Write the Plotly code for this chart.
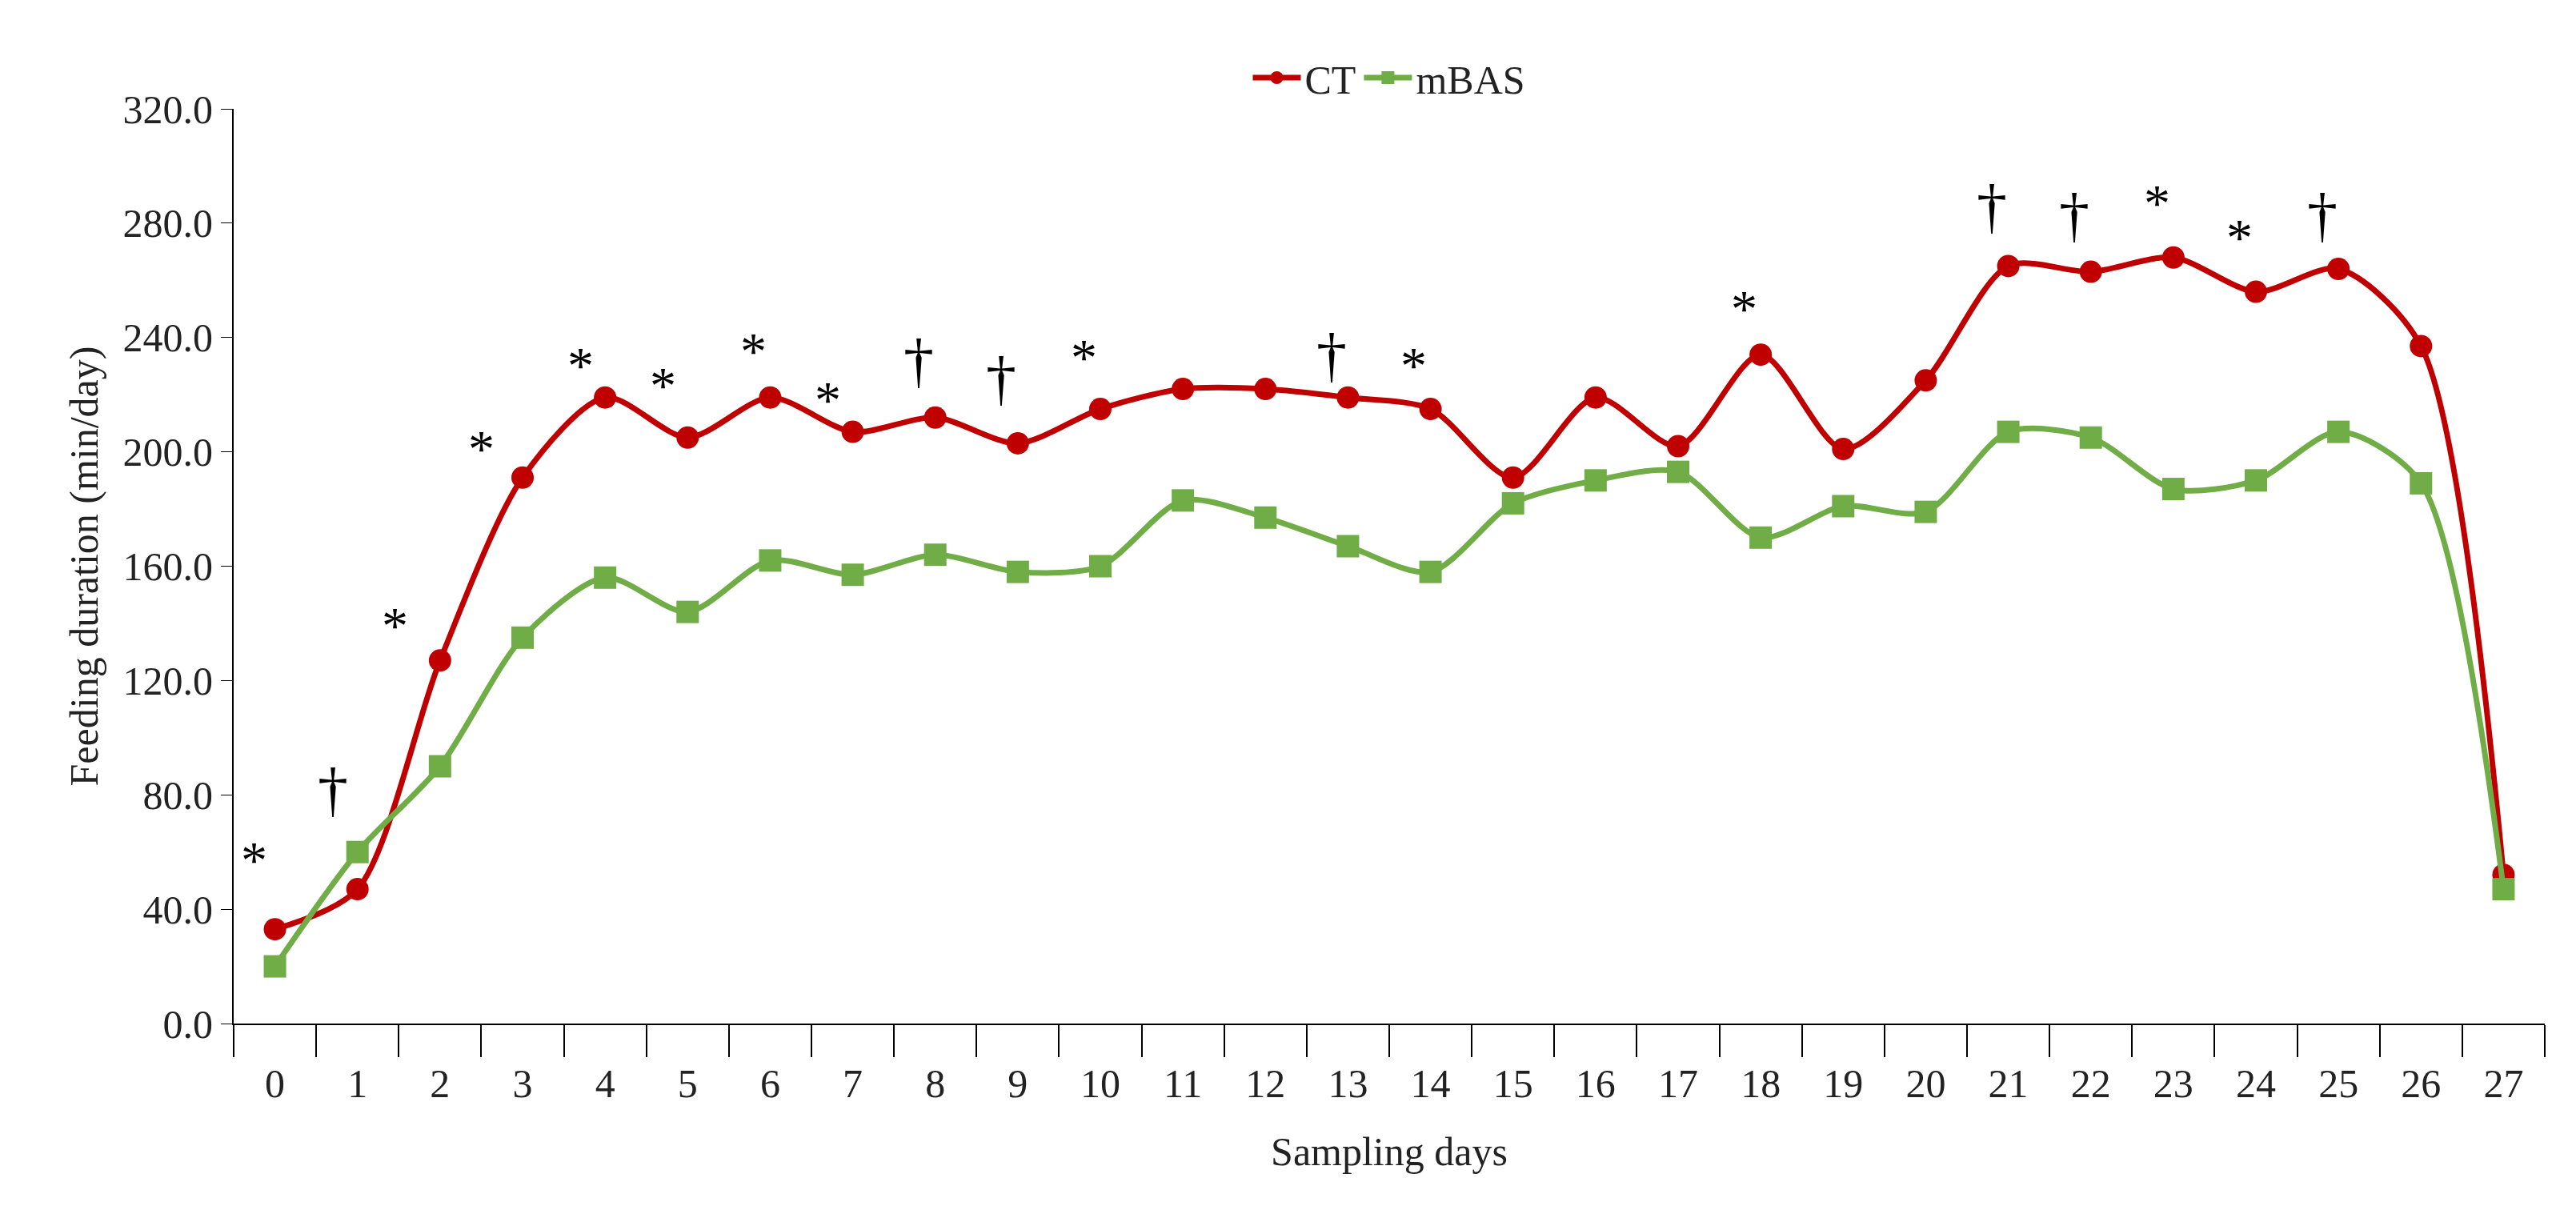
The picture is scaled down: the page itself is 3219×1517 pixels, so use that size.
import plotly.graph_objects as go

days = list(range(28))
ct = [33, 47, 127, 191, 219, 205, 219, 207, 212, 203, 215, 222, 222, 219, 215, 191, 219, 202, 234, 201, 225, 265, 263, 268, 256, 264, 237, 52]
mbas = [20, 60, 90, 135, 156, 144, 162, 157, 164, 158, 160, 183, 177, 167, 158, 182, 190, 193, 170, 181, 179, 207, 205, 187, 190, 207, 189, 47]
sig_x = [-0.25, 0.7, 1.45, 2.5, 3.7, 4.7, 5.8, 6.7, 7.8, 8.8, 9.8, 12.8, 13.8, 17.8, 20.8, 21.8, 22.8, 23.8, 24.8]
sig_y = [60, 86, 142, 204, 233, 226, 238, 221, 236, 230, 236, 238, 233, 253, 290, 287, 290, 278, 287]
sig_t = ["*", "†", "*", "*", "*", "*", "*", "*", "†", "†", "*", "†", "*", "*", "†", "†", "*", "*", "†"]
yticks = [0, 40, 80, 120, 160, 200, 240, 280, 320]

F = "Liberation Serif"
fig = go.Figure()
fig.add_trace(go.Scatter(x=days, y=ct, name="CT", mode="lines+markers",
                         line=dict(color="#C00000", width=7, shape="spline", smoothing=0.8),
                         marker=dict(symbol="circle", size=28, color="#C00000")))
fig.add_trace(go.Scatter(x=days, y=mbas, name="mBAS", mode="lines+markers",
                         line=dict(color="#70AD47", width=7, shape="spline", smoothing=0.8),
                         marker=dict(symbol="square", size=28, color="#70AD47")))
for x, y, t in zip(sig_x, sig_y, sig_t):
    if t == "*":
        fig.add_annotation(x=x, y=y, text="*", showarrow=False, font=dict(family=F, size=66, color="black"), yshift=-10)
    else:
        fig.add_annotation(x=x, y=y - 4, text="†", showarrow=False, font=dict(family=F, size=76, color="black"))

fig.update_layout(
    width=3219, height=1517, paper_bgcolor="white", plot_bgcolor="white",
    margin=dict(l=284, r=47, t=128, b=246),
    font=dict(family=F, size=50, color="#222"),
    legend=dict(orientation="h", x=0.5, xanchor="center", y=1.0, yanchor="bottom",
                font=dict(size=50), itemwidth=60),
    showlegend=True,
)
fig.update_xaxes(range=[-0.5, 27.5], tickvals=days, ticktext=[str(d) for d in days],
                 showgrid=False, zeroline=False, showline=True, linecolor="black", linewidth=2,
                 ticks="", ticklabelstandoff=30,
                 minor=dict(tick0=0.5, dtick=1, ticks="outside", ticklen=40, tickcolor="black", tickwidth=2),
                 title=dict(text="Sampling days", font=dict(size=50), standoff=40))
fig.update_yaxes(range=[0, 320], tickvals=yticks, ticktext=[f"{v:.1f}" for v in yticks],
                 showgrid=False, zeroline=False, showline=True, linecolor="black", linewidth=2,
                 ticks="outside", ticklen=14, tickcolor="black",
                 title=dict(text="Feeding duration (min/day)", font=dict(size=50)))
fig.write_html("out.html")
